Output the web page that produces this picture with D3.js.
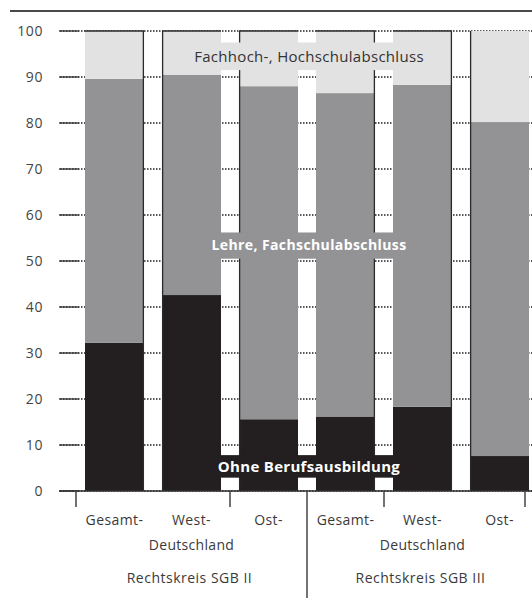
<!DOCTYPE html>
<html><head><meta charset="utf-8">
<script src="https://cdn.jsdelivr.net/npm/d3@7"></script>
<style>
html,body{margin:0;padding:0;background:#fff;}
svg{display:block;font-family:"Open Sans","DejaVu Sans",sans-serif;}
</style></head>
<body>
<svg id="chart" width="532" height="607"></svg>
<script>
// ---- data ----
const categories = ["Gesamt-", "West-", "Ost-", "Gesamt-", "West-", "Ost-"];
const groups = ["Rechtskreis SGB II", "Rechtskreis SGB III"];
const ohneBerufsausbildung = [32.2, 42.6, 15.6, 16.2, 18.3, 7.6];
const lehreFachschule = [57.4, 47.9, 72.4, 70.3, 70.0, 72.6];
const fachHochschule = [10.4, 9.5, 12.0, 13.5, 11.7, 19.8];
const seriesNames = ["Ohne Berufsausbildung", "Lehre, Fachschulabschluss", "Fachhoch-, Hochschulabschluss"];
const yTicks = [0, 10, 20, 30, 40, 50, 60, 70, 80, 90, 100];

const colors = ["#231f20", "#939396", "#e2e2e3"];

const svg = d3.select("#chart");
const y = d3.scaleLinear().domain([0, 100]).range([491, 31]);
const keys = categories.map((c, i) => i);
const x = d3.scaleBand().domain(keys).range([85, 529]).paddingInner(0.234).paddingOuter(0).align(0);
const bw = x.bandwidth();
const gap = x.step() - bw;

// header rule
svg.append("line").attr("x1", 10).attr("x2", 532).attr("y1", 11).attr("y2", 11)
  .attr("stroke", "#4a4a4a").attr("stroke-width", 2);

// dotted gridlines
svg.append("g").selectAll("line").data(yTicks).join("line")
  .attr("x1", 60).attr("x2", 532)
  .attr("y1", d => y(d)).attr("y2", d => y(d))
  .attr("stroke", "#222").attr("stroke-width", 1.3)
  .attr("stroke-dasharray", "1.5,1.5");

// stacked bars
const rows = keys.map(i => ({ i, v: [ohneBerufsausbildung[i], lehreFachschule[i], fachHochschule[i]] }));
const stack = d3.stack().keys([0, 1, 2]).value((d, k) => d.v[k]);
const stacked = stack(rows);
svg.append("g").selectAll("g").data(stacked).join("g")
  .attr("fill", (d, k) => colors[k])
  .selectAll("rect").data(d => d).join("rect")
  .attr("x", d => x(d.data.i))
  .attr("width", bw)
  .attr("y", d => y(Math.min(d[1], 100)))
  .attr("height", d => y(d[0]) - y(Math.min(d[1], 100)));

// dark edge lines (scanned outlines)
const edges = [[0, "r"], [1, "l"], [2, "l"], [3, "r"], [4, "r"], [5, "l"]];
svg.append("g").selectAll("line").data(edges).join("line")
  .attr("x1", d => d[1] === "l" ? x(d[0]) + 0.6 : x(d[0]) + bw - 0.6)
  .attr("x2", d => d[1] === "l" ? x(d[0]) + 0.6 : x(d[0]) + bw - 0.6)
  .attr("y1", y(100)).attr("y2", y(0))
  .attr("stroke", "#2a2a2a").attr("stroke-width", 1.3);
// top edges
svg.append("g").selectAll("line").data(keys.slice(0, 5)).join("line")
  .attr("x1", d => x(d)).attr("x2", d => x(d) + bw)
  .attr("y1", y(100)).attr("y2", y(100))
  .attr("stroke", "#2a2a2a").attr("stroke-width", 1.5);

// y axis ticks
svg.append("g").selectAll("line").data(yTicks).join("line")
  .attr("x1", 59).attr("x2", 79)
  .attr("y1", d => y(d)).attr("y2", d => y(d))
  .attr("stroke", "#333").attr("stroke-width", 1.3);
svg.append("g").selectAll("text").data(yTicks).join("text")
  .attr("x", 43).attr("y", d => y(d)).attr("dy", "0.35em")
  .attr("text-anchor", "end").attr("font-size", 14).attr("letter-spacing", 0.6)
  .attr("fill", "#444")
  .text(d => d);

// series labels with backing boxes over inner gaps
const labelDefs = [
  { s: 2, lo: 91.5, hi: 97.5, color: "#333", weight: "normal", size: 15, ls: 0.3 },
  { s: 1, lo: 50.5, hi: 56.2, color: "#fff", weight: "bold", size: 14, ls: 0.4 },
  { s: 0, lo: 2.9, hi: 7.8, color: "#fff", weight: "bold", size: 15, ls: 0.3 }
];
const bx0 = x(1) + bw, bx1 = x(4);
labelDefs.forEach(L => {
  svg.append("rect").attr("x", bx0).attr("width", bx1 - bx0)
    .attr("y", y(L.hi)).attr("height", y(L.lo) - y(L.hi))
    .attr("fill", colors[L.s]);
  svg.append("text").attr("x", (x(1) + x(4) + bw) / 2 + 2)
    .attr("y", (y(L.hi) + y(L.lo)) / 2).attr("dy", "0.35em")
    .attr("text-anchor", "middle").attr("font-size", L.size)
    .attr("letter-spacing", L.ls)
    .attr("font-weight", L.weight).attr("fill", L.color)
    .text(seriesNames[L.s]);
});

// x axis
svg.append("line").attr("x1", 59).attr("x2", 532).attr("y1", y(0)).attr("y2", y(0))
  .attr("stroke", "#333").attr("stroke-width", 1.5);
const tickXs = [x(0) - gap / 2, x(2) - gap / 2, x(4) - gap / 2, x(5) + bw - 4];
svg.append("g").selectAll("line").data(tickXs).join("line")
  .attr("x1", d => d).attr("x2", d => d)
  .attr("y1", y(0)).attr("y2", y(0) + 16)
  .attr("stroke", "#444").attr("stroke-width", 1.5);
svg.append("line").attr("x1", x(3) - gap / 2).attr("x2", x(3) - gap / 2)
  .attr("y1", y(0)).attr("y2", 598)
  .attr("stroke", "#444").attr("stroke-width", 1.5);

svg.append("g").selectAll("text").data(keys).join("text")
  .attr("x", d => x(d) + bw / 2).attr("y", 520).attr("dy", "0.35em")
  .attr("text-anchor", "middle").attr("font-size", 14).attr("letter-spacing", 0.4)
  .attr("fill", "#3a3a3a")
  .text(d => categories[d]);
[1, 4].forEach((k, gi) => {
  svg.append("text").attr("x", x(k) + bw / 2).attr("y", 545).attr("dy", "0.35em")
    .attr("text-anchor", "middle").attr("font-size", 14).attr("letter-spacing", 0.3)
    .attr("fill", "#3a3a3a")
    .text("Deutschland");
  svg.append("text").attr("x", x(k) + bw / 2 - 2).attr("y", 578).attr("dy", "0.35em")
    .attr("text-anchor", "middle").attr("font-size", 14).attr("letter-spacing", 0.5)
    .attr("fill", "#3a3a3a")
    .text(groups[gi]);
});
</script>
</body></html>
